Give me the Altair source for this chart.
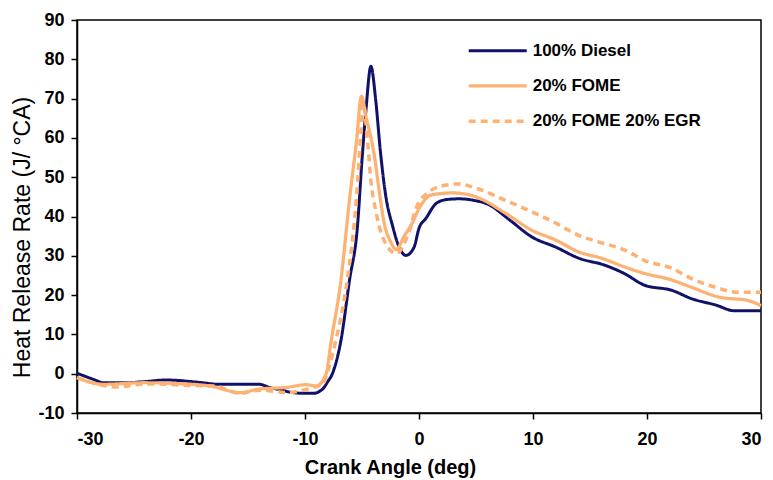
import altair as alt
import pandas as pd

series_names = ["100% Diesel", "20% FOME", "20% FOME 20% EGR"]
series_colors = ["#10126a", "#FDB172", "#FDB172"]

diesel_x = [-30, -28.5, -27.7, -25.7, -24, -22.2, -20, -19, -17.5, -14, -13.1, -12, -11.1, -10, -9.3,
            -8.45, -8, -7.6, -6.85, -6.1, -5.4, -5.0, -4.65, -4.22, -3.8, -3.4, -2.95, -2.3, -1.74,
            -1.15, -0.43, 0.0, 0.6, 1.5, 2.4, 3.5, 5, 6, 8, 9.9, 12, 14, 16.3, 18, 19.8, 22.2, 23.9,
            26, 27.7, 30]
diesel_y = [0.1, -1.5, -2.3, -2.3, -2.0, -1.6, -2.0, -2.3, -2.7, -2.7, -3.5, -4.2, -4.8, -5.0, -5.0,
            -3.9, -2.0, 0.0, 8.4, 23.7, 37.4, 54.4, 67.2, 78.2, 69.7, 57.0, 45.9, 37.4, 32.2,
            30.1, 32.2, 37.0, 39.5, 43.3, 44.3, 44.5, 44.0, 43.2, 39.0, 34.8, 32.2, 29.4, 27.6, 25.5,
            22.5, 21.2, 19.1, 17.5, 16.0, 16.0]

fome_x = [-30, -27.7, -24.2, -21.3, -18.4, -15.7, -14, -11.65, -9.9, -9, -8.15, -7.7, -6.85, -6.1,
          -5.5, -5.04, -4.65, -3.9, -3.5, -3.05, -2.47, -2.0, -1.3, -0.6, 0, 1.1, 3, 5, 7.5, 9.9, 12,
          14, 16, 18, 19.8, 22, 23.9, 26.3, 28.9, 30]
fome_y = [-1.0, -2.7, -2.3, -2.5, -3.1, -4.8, -3.9, -3.5, -2.8, -3.1, 0.0, 8.4, 23.7, 44.2,
          58.7, 70.6, 65.5, 55.2, 46.7, 38.3, 33.5, 31.6, 35.0, 38.3, 42.0, 45.5, 46.0, 45.0, 41.0,
          36.5, 34.0, 31.0, 29.4, 27.2, 25.5, 24.0, 22.0, 19.5, 18.6, 17.3]

egr_x = [-30, -28, -26.5, -24, -22.2, -20, -18, -15.7, -14, -11.4, -10.5, -9.3, -8.45, -7.9, -7.3,
         -6.3, -5.5, -5.1, -4.9, -4.5, -4.2, -3.8, -3.2, -2.0, -0.87, -0.2, 0.9, 2.4, 3.5, 5, 7.9,
         9.9, 12, 14, 15.8, 18.1, 19.8, 22.2, 23.9, 26, 28, 30]
egr_y = [-1.0, -2.8, -3.4, -2.6, -2.7, -3.0, -3.1, -5.0, -4.2, -4.8, -4.4, -3.5, -2.7, 1.6, 8.4,
         23.7, 44.2, 61.2, 69.0, 58.7, 48.5, 41.6, 34.8, 30.6, 36.1, 42.5, 46.3, 48.0, 48.3, 47.2,
         43.7, 41.2, 38.3, 35.2, 33.5, 31.4, 28.8, 26.8, 24.2, 22.0, 20.7, 20.7]

x_ticks = [-30, -20, -10, 0, 10, 20, 30]
y_ticks = [-10, 0, 10, 20, 30, 40, 50, 60, 70, 80, 90]

rows = []
for name, xs, ys in zip(series_names, [diesel_x, fome_x, egr_x], [diesel_y, fome_y, egr_y]):
    for xv, yv in zip(xs, ys):
        rows.append({"series": name, "angle": xv, "hrr": yv})
df = pd.DataFrame(rows)

FONT = "Liberation Sans"

legend = alt.Legend(
    title=None, orient="none", legendX=418.7, legendY=14.8, direction="vertical",
    symbolType="M-3,0H1", symbolSize=841, labelFont=FONT, labelFontSize=17,
    labelFontWeight="bold", labelColor="black", labelLimit=300, rowPadding=10.5,
    labelOffset=4, padding=0,
)

chart = alt.Chart(df).mark_line(interpolate="monotone").encode(
    x=alt.X("angle:Q", scale=alt.Scale(domain=[-30, 30], nice=False),
            axis=alt.Axis(values=x_ticks, title="Crank Angle (deg)", labelPadding=11,
                          labelExpr="'' + datum.value",
                          titleX=313, titleY=60, titleBaseline="alphabetic",
                          titleFontSize=20, titleFontWeight="bold", titleAlign="center")),
    y=alt.Y("hrr:Q", scale=alt.Scale(domain=[-10, 90], nice=False),
            axis=alt.Axis(values=y_ticks, title="Heat Release Rate (J/ °CA)", labelPadding=7,
                          labelExpr="'' + datum.value",
                          titleX=-48, titleY=217, titleBaseline="alphabetic",
                          titleFontSize=23, titleFontWeight="normal", titleAlign="center")),
    color=alt.Color("series:N", scale=alt.Scale(domain=series_names, range=series_colors), legend=legend),
    strokeDash=alt.StrokeDash("series:N", scale=alt.Scale(domain=series_names, range=[[1, 0], [1, 0], [7, 5]]), legend=legend),
    strokeWidth=alt.StrokeWidth("series:N", scale=alt.Scale(domain=series_names, range=[3, 3.5, 3.5]), legend=legend),
).properties(
    width=684, height=393, autosize="none",
    padding={"left": 77, "top": 20, "right": 12, "bottom": 67},
    background="white",
).configure_view(
    stroke="black", strokeWidth=1.5
).configure_axis(
    grid=False, labelFont=FONT, labelFontSize=18, labelFontWeight="bold", labelColor="black",
    titleFont=FONT, titleColor="black", tickColor="black", tickSize=6, tickWidth=1.5,
    domainColor="black", domainWidth=1.5,
)

chart.save("out.html", embed_options={"renderer": "svg", "actions": False})
